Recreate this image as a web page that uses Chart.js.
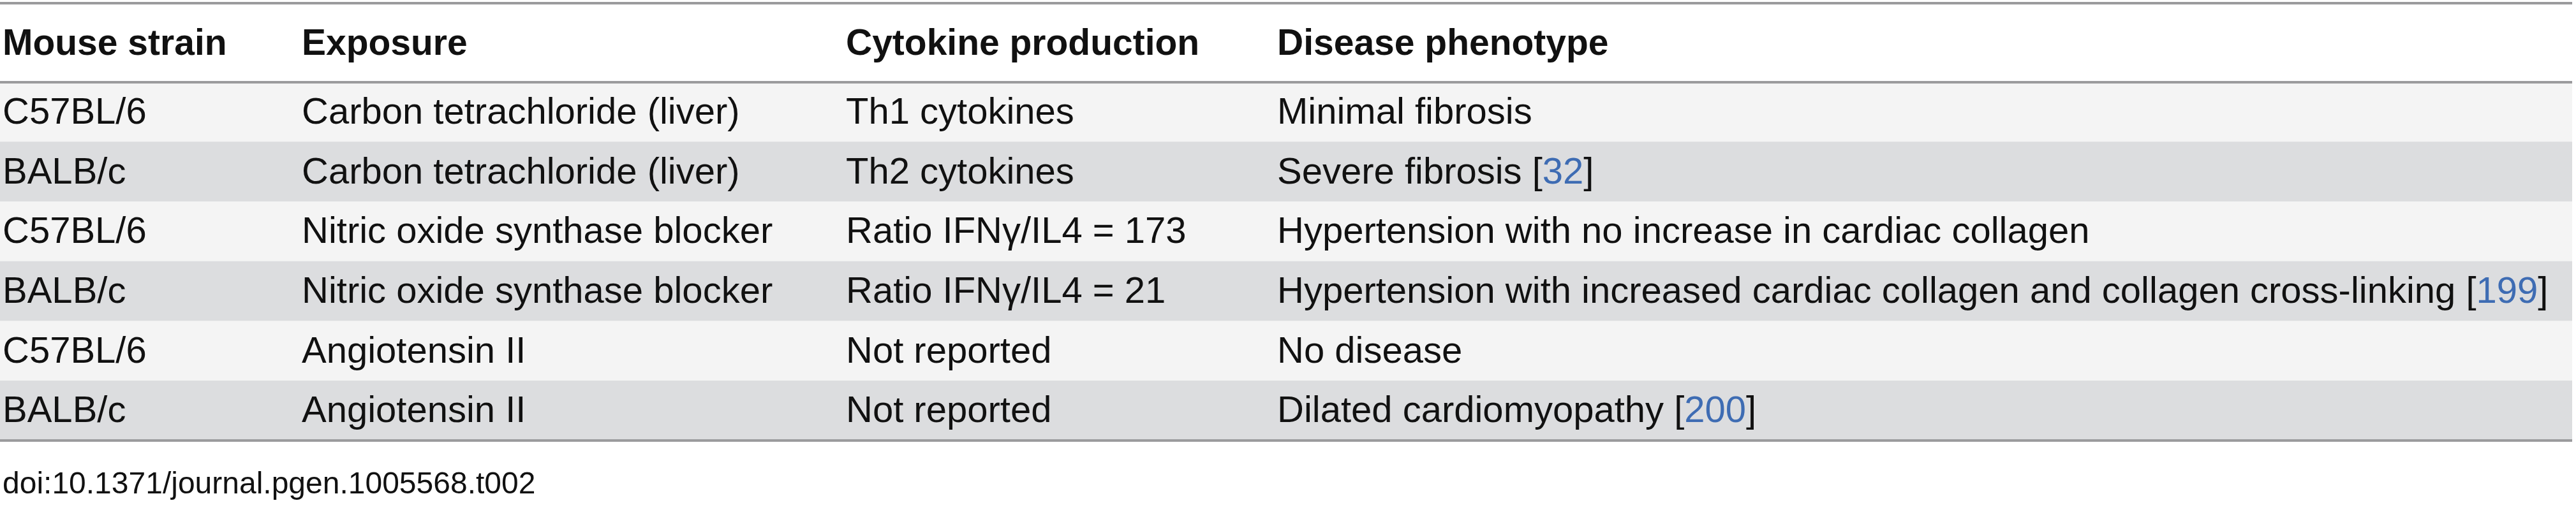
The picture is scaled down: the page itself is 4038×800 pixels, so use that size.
<!DOCTYPE html>
<html>
<head>
<meta charset="utf-8">
<script src="https://cdn.jsdelivr.net/npm/chart.js@4/dist/chart.umd.min.js"></script>
<style>
  html, body { margin: 0; padding: 0; background: #fff; }
  #wrap { width: 4038px; height: 800px; }
</style>
</head>
<body>
<div id="wrap"><canvas id="tabla"></canvas></div>
<script>
// datos de la tabla
const headers = ['Mouse strain', 'Exposure', 'Cytokine production', 'Disease phenotype'];
const strains = ['C57BL/6', 'BALB/c', 'C57BL/6', 'BALB/c', 'C57BL/6', 'BALB/c'];
const exposures = ['Carbon tetrachloride (liver)', 'Carbon tetrachloride (liver)', 'Nitric oxide synthase blocker',
    'Nitric oxide synthase blocker', 'Angiotensin II', 'Angiotensin II'];
const cytokines = ['Th1 cytokines', 'Th2 cytokines', 'Ratio IFNγ/IL4 = 173', 'Ratio IFNγ/IL4 = 21', 'Not reported', 'Not reported'];
const phenotypes = ['Minimal fibrosis', 'Severe fibrosis', 'Hypertension with no increase in cardiac collagen',
    'Hypertension with increased cardiac collagen and collagen cross-linking', 'No disease', 'Dilated cardiomyopathy'];
const refs = ['', '32', '', '199', '', '200'];
const colStarts = [4, 473, 1326, 2002];
const caption = 'doi:10.1371/journal.pgen.1005568.t002';

const rowLabels = strains.map((s, i) => 'r' + i);
const FONT = '"Liberation Sans", Arial, sans-serif';

const tablePlugin = {
    id: 'tablePlugin',
    afterDatasetsDraw(chart) {
        const { ctx, chartArea, scales } = chart;
        const x = scales.x, y = scales.y;
        const left = x.getPixelForValue(0), right = x.getPixelForValue(x.max);
        ctx.save();
        // lineas
        ctx.fillStyle = '#9b9b9d';
        ctx.fillRect(left, 3, right - left, 4);
        ctx.fillRect(left, chartArea.top - 2, right - left, 4);
        ctx.fillRect(left, chartArea.bottom - 2, right - left, 4);
        // encabezado
        ctx.textBaseline = 'middle';
        ctx.fillStyle = '#111';
        ctx.font = 'bold 57px ' + FONT;
        headers.forEach((h, c) => ctx.fillText(h, x.getPixelForValue(colStarts[c]), 70));
        // filas
        ctx.font = '58px ' + FONT;
        rowLabels.forEach((r, i) => {
            const py = y.getPixelForValue(i) + 2;
            const cells = [strains[i], exposures[i], cytokines[i], phenotypes[i]];
            cells.forEach((t, c) => {
                let px = x.getPixelForValue(colStarts[c]);
                ctx.fillStyle = '#111';
                ctx.fillText(t, px, py);
                if (c === 3 && refs[i]) {
                    px += ctx.measureText(t + ' ').width;
                    ctx.fillText('[', px, py);
                    px += ctx.measureText('[').width;
                    ctx.fillStyle = '#3e6cb3';
                    ctx.fillText(refs[i], px, py);
                    px += ctx.measureText(refs[i]).width;
                    ctx.fillStyle = '#111';
                    ctx.fillText(']', px, py);
                }
            });
        });
        ctx.font = '48px ' + FONT;
        ctx.fillStyle = '#111';
        ctx.fillText(caption, x.getPixelForValue(colStarts[0]), chartArea.bottom + 70);
        ctx.restore();
    }
};

const ctx = document.getElementById('tabla').getContext('2d');
new Chart(ctx, {
    type: 'bar',
    data: {
        labels: rowLabels,
        datasets: [{
            data: rowLabels.map(() => [0, 4032]),
            backgroundColor: rowLabels.map((r, i) => i % 2 === 0 ? '#f4f4f4' : '#dcdddf'),
            borderWidth: 0,
            barPercentage: 1,
            categoryPercentage: 1,
        }]
    },
    options: {
        indexAxis: 'y',
        responsive: true,
        maintainAspectRatio: false,
        animation: false,
        layout: { padding: { top: 129, bottom: 109, left: 0, right: 6 } },
        scales: {
            x: { display: false, min: 0, max: 4032 },
            y: { display: false },
        },
        plugins: { legend: { display: false }, tooltip: { enabled: false } },
    },
    plugins: [tablePlugin],
});
</script>
</body>
</html>
